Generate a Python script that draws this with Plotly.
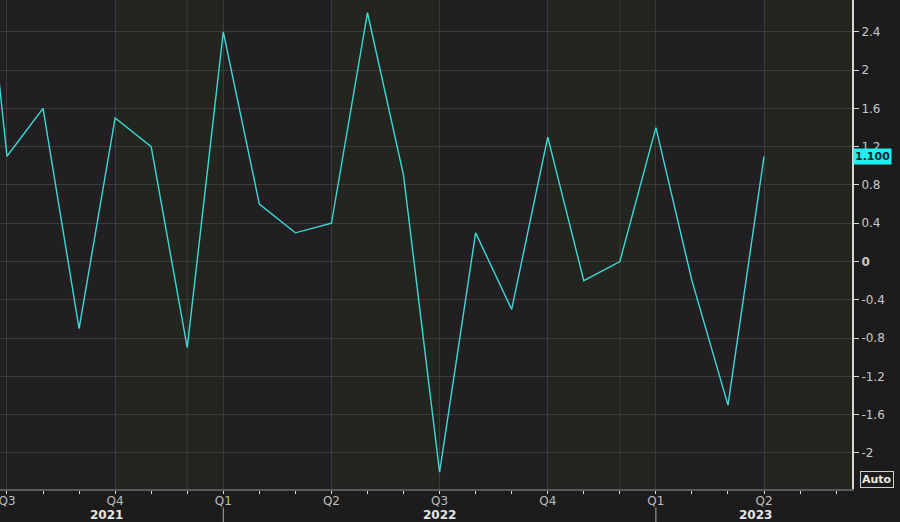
import plotly.graph_objects as go

# Monthly data, index 0 = Jun 2021
months = ["2021-06", "2021-07", "2021-08", "2021-09", "2021-10", "2021-11", "2021-12",
          "2022-01", "2022-02", "2022-03", "2022-04", "2022-05", "2022-06",
          "2022-07", "2022-08", "2022-09", "2022-10", "2022-11", "2022-12",
          "2023-01", "2023-02", "2023-03", "2023-04"]
values = [4.7, 1.1, 1.6, -0.7, 1.5, 1.2, -0.9,
          2.4, 0.6, 0.3, 0.4, 2.6, 0.9,
          -2.2, 0.3, -0.5, 1.3, -0.2, 0.0,
          1.4, -0.2, -1.5, 1.1]
x_idx = list(range(len(months)))

quarter_pos = [1, 4, 7, 10, 13, 16, 19, 22]
quarter_labels = ["Q3", "Q4", "Q1", "Q2", "Q3", "Q4", "Q1", "Q2"]
year_labels = ["2021", "2022", "2023"]
year_pos = [3.77, 13.0, 21.75]
year_sep = [7, 19]
extra_grid = [6, 18]
green_bands = [(4, 7), (10, 13), (16, 19), (22, 25)]
y_ticks = [2.4, 2, 1.6, 1.2, 0.8, 0.4, 0, -0.4, -0.8, -1.2, -1.6, -2]
y_ticktext = ["2.4", "2", "1.6", "1.2", "0.8", "0.4", "<b>0</b>", "-0.4", "-0.8", "-1.2", "-1.6", "-2"]
last_value = values[-1]

GRID = "#3c3a3a"
FONT = "DejaVu Sans"

fig = go.Figure()
fig.add_trace(go.Scatter(x=x_idx, y=values, mode="lines",
                         line=dict(color="#3cd9d6", width=1.4),
                         hoverinfo="skip", showlegend=False, cliponaxis=True))

shapes = []
for a, b in green_bands:
    shapes.append(dict(type="rect", xref="x", yref="paper", x0=a, x1=b, y0=0, y1=1,
                       fillcolor="#22261f", line=dict(width=0), layer="below"))
for g in extra_grid:
    shapes.append(dict(type="line", xref="x", yref="paper", x0=g, x1=g, y0=0, y1=1,
                       line=dict(color=GRID, width=1), layer="below"))
for s in year_sep:
    shapes.append(dict(type="line", xref="x", yref="paper", x0=s, x1=s, y0=-0.038, y1=-0.075,
                       line=dict(color="#aaaaaa", width=1)))

annotations = []
for t, p in zip(year_labels, year_pos):
    annotations.append(dict(x=p, y=-0.053, xref="x", yref="paper", text="<b>" + t + "</b>",
                            showarrow=False, xanchor="center", yanchor="middle",
                            font=dict(family=FONT, size=12, color="#e6e6e6")))
annotations.append(dict(x=1, y=last_value, xref="paper", yref="y",
                        text="<b>%.3f</b>" % last_value, showarrow=False,
                        xanchor="left", yanchor="middle", xshift=1,
                        bgcolor="#1ff0f0", borderpad=1,
                        font=dict(family=FONT, size=11, color="#0c2a2a")))
annotations.append(dict(x=1, y=0, xref="paper", yref="paper", text="<b>Auto</b>",
                        showarrow=False, xanchor="left", yanchor="bottom", xshift=8, yshift=1,
                        bordercolor="#cfcfcf", borderwidth=1, borderpad=1,
                        font=dict(family=FONT, size=11, color="#e8e8e8")))

fig.update_layout(
    width=900, height=522,
    margin=dict(l=0, r=48, t=0, b=33, autoexpand=False),
    paper_bgcolor="#1c1c1c",
    plot_bgcolor="#221f22",
    font=dict(family=FONT, size=11, color="#c8c8c8"),
    shapes=shapes,
    annotations=annotations,
    showlegend=False,
    xaxis=dict(range=[0.806, 24.44], tickmode="array", tickvals=quarter_pos,
               ticktext=quarter_labels, showgrid=True, gridcolor=GRID, gridwidth=1,
               zeroline=False, showline=True, linecolor="#5a5a5a", linewidth=2,
               ticks="outside", ticklen=3, tickcolor="#dddddd", tickwidth=1,
               automargin=False, ticklabeloverflow="allow", ticklabelstandoff=-3,
               minor=dict(ticks="outside", ticklen=3, tick0=0, dtick=1,
                          tickcolor="#dddddd", showgrid=False),
               tickfont=dict(family=FONT, size=12, color="#bdbdbd")),
    yaxis=dict(range=[-2.377, 2.733], side="right", tickmode="array",
               tickvals=y_ticks, ticktext=y_ticktext, showgrid=True, gridcolor=GRID,
               gridwidth=1, zeroline=False, showline=True, linecolor="#d8d8d8", linewidth=2,
               ticks="outside", ticklen=5, tickcolor="#d8d8d8", automargin=False,
               tickfont=dict(family=FONT, size=12, color="#c8c8c8")),
)

fig.write_html("out.html", config={"displayModeBar": False},
               post_script="document.body.style.margin='0';document.body.style.background='#1c1c1c';")
